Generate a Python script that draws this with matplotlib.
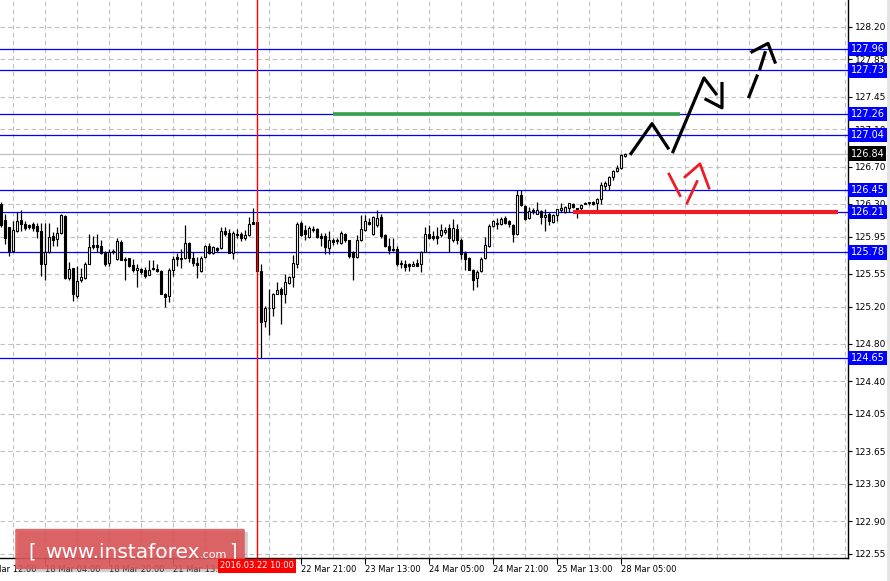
import numpy as np
import matplotlib.pyplot as plt
from matplotlib.patches import FancyBboxPatch, Rectangle
from matplotlib.transforms import blended_transform_factory

# hourly candles, bar index 0..156
opens = [
    126.30, 126.13, 126.05, 125.80, 126.01, 126.13, 126.08, 126.07, 126.09, 126.06,
    126.01, 125.66, 125.78, 125.96, 125.92, 125.99, 126.17, 125.51, 125.61, 125.31,
    125.48, 125.51, 125.66, 125.86, 125.86, 125.85, 125.78, 125.67, 125.80, 125.71,
    125.89, 125.71, 125.72, 125.65, 125.59, 125.60, 125.59, 125.54, 125.61, 125.60,
    125.58, 125.34, 125.31, 125.59, 125.73, 125.72, 125.72, 125.88, 125.72, 125.67,
    125.58, 125.73, 125.85, 125.77, 125.83, 125.83, 126.01, 125.99, 125.77, 125.98,
    125.98, 125.94, 125.97, 126.11, 126.11, 125.58, 125.05, 125.19, 125.19, 125.34,
    125.39, 125.34, 125.45, 125.52, 125.66, 126.10, 126.02, 125.95, 126.03, 126.03,
    125.96, 125.96, 125.83, 125.91, 125.91, 125.88, 125.98, 125.91, 125.78, 125.73,
    125.91, 126.02, 126.11, 125.98, 126.07, 126.16, 125.97, 125.85, 125.82, 125.82,
    125.67, 125.66, 125.66, 125.64, 125.67, 125.66, 125.79, 125.98, 125.96, 125.96,
    125.97, 126.00, 126.04, 125.91, 126.03, 125.91, 125.77, 125.72, 125.59, 125.51,
    125.58, 125.72, 125.85, 126.06, 126.08, 126.09, 126.15, 126.12, 126.07, 125.98,
    126.40, 126.28, 126.15, 126.23, 126.19, 126.22, 126.16, 126.19, 126.11, 126.18,
    126.23, 126.21, 126.26, 126.30, 126.26, 126.26, 126.30, 126.31, 126.32, 126.31,
    126.35, 126.49, 126.50, 126.59, 126.65, 126.68, 126.81,
]
highs = [
    126.32, 126.19, 126.05, 126.12, 126.21, 126.24, 126.12, 126.09, 126.11, 126.10,
    126.10, 126.10, 126.10, 126.00, 126.05, 126.19, 126.18, 125.68, 125.61, 125.63,
    125.61, 125.68, 125.98, 125.96, 125.98, 125.91, 125.80, 125.82, 125.82, 125.94,
    125.91, 125.73, 125.72, 125.71, 125.66, 125.61, 125.62, 125.70, 125.70, 125.66,
    125.59, 125.35, 125.61, 125.74, 125.77, 125.82, 126.07, 125.89, 125.78, 125.73,
    125.74, 125.86, 125.88, 125.85, 125.84, 126.05, 126.05, 126.03, 126.01, 126.03,
    126.00, 126.02, 126.16, 126.26, 126.12, 125.66, 125.21, 125.39, 125.35, 125.46,
    125.41, 125.55, 125.53, 125.75, 126.11, 126.12, 126.07, 126.06, 126.06, 126.04,
    125.99, 125.99, 126.01, 125.93, 125.94, 126.01, 125.99, 125.91, 125.80, 125.97,
    126.18, 126.18, 126.15, 126.17, 126.24, 126.19, 125.98, 125.94, 125.93, 125.85,
    125.70, 125.70, 125.67, 125.69, 125.71, 125.80, 126.05, 126.07, 126.01, 126.05,
    126.09, 126.05, 126.09, 126.14, 126.09, 125.94, 125.80, 125.73, 125.60, 125.59,
    125.73, 125.95, 126.09, 126.13, 126.15, 126.16, 126.17, 126.13, 126.09, 126.45,
    126.45, 126.29, 126.27, 126.26, 126.32, 126.24, 126.25, 126.21, 126.19, 126.25,
    126.31, 126.28, 126.31, 126.31, 126.26, 126.30, 126.32, 126.32, 126.33, 126.36,
    126.53, 126.55, 126.60, 126.66, 126.72, 126.84, 126.85,
]
lows = [
    126.05, 125.87, 125.74, 125.78, 126.00, 126.01, 126.02, 126.03, 126.01, 125.93,
    125.53, 125.49, 125.77, 125.85, 125.85, 125.98, 125.50, 125.48, 125.26, 125.29,
    125.46, 125.50, 125.66, 125.82, 125.78, 125.76, 125.64, 125.64, 125.76, 125.70,
    125.70, 125.49, 125.62, 125.57, 125.41, 125.55, 125.51, 125.54, 125.59, 125.57,
    125.34, 125.20, 125.25, 125.53, 125.64, 125.61, 125.71, 125.68, 125.63, 125.51,
    125.57, 125.72, 125.76, 125.76, 125.79, 125.82, 125.96, 125.77, 125.71, 125.94,
    125.90, 125.91, 125.96, 126.09, 125.58, 124.65, 124.98, 124.90, 125.10, 125.34,
    125.01, 125.24, 125.44, 125.41, 125.61, 125.96, 125.91, 125.94, 126.00, 125.94,
    125.85, 125.76, 125.76, 125.86, 125.87, 125.87, 125.89, 125.72, 125.49, 125.72,
    125.90, 126.01, 126.07, 125.97, 126.05, 125.94, 125.84, 125.76, 125.80, 125.64,
    125.61, 125.58, 125.58, 125.63, 125.63, 125.57, 125.78, 125.92, 125.91, 125.87,
    125.95, 125.98, 125.78, 125.89, 125.87, 125.71, 125.59, 125.59, 125.38, 125.41,
    125.57, 125.71, 125.84, 126.05, 126.03, 126.07, 126.09, 126.05, 125.89, 125.97,
    126.28, 126.13, 126.14, 126.19, 126.19, 126.09, 126.01, 126.07, 126.10, 126.12,
    126.21, 126.20, 126.21, 126.26, 126.15, 126.21, 126.30, 126.29, 126.29, 126.23,
    126.30, 126.45, 126.45, 126.56, 126.64, 126.67, 126.80,
]
closes = [
    126.07, 125.94, 125.80, 126.02, 126.12, 126.09, 126.04, 126.05, 126.04, 126.01,
    125.66, 125.78, 125.95, 125.91, 125.99, 126.18, 125.51, 125.60, 125.33, 125.47,
    125.52, 125.66, 125.84, 125.84, 125.84, 125.77, 125.66, 125.79, 125.78, 125.90,
    125.70, 125.70, 125.63, 125.59, 125.61, 125.57, 125.53, 125.59, 125.60, 125.58,
    125.34, 125.30, 125.59, 125.71, 125.71, 125.71, 125.88, 125.72, 125.67, 125.65,
    125.72, 125.85, 125.77, 125.84, 125.81, 126.01, 125.98, 125.77, 125.99, 125.97,
    125.93, 125.97, 126.09, 126.09, 125.58, 125.04, 125.19, 125.18, 125.34, 125.38,
    125.34, 125.46, 125.52, 125.67, 126.09, 125.97, 125.98, 126.04, 126.02, 125.95,
    125.94, 125.84, 125.91, 125.89, 125.90, 125.99, 125.91, 125.74, 125.73, 125.91,
    126.03, 126.12, 126.09, 126.16, 126.15, 125.96, 125.85, 125.81, 125.81, 125.66,
    125.66, 125.62, 125.63, 125.66, 125.64, 125.79, 125.98, 125.94, 125.94, 125.94,
    126.02, 126.02, 125.94, 126.04, 125.91, 125.76, 125.71, 125.59, 125.49, 125.57,
    125.71, 125.86, 126.06, 126.12, 126.10, 126.14, 126.10, 126.08, 125.98, 126.40,
    126.29, 126.14, 126.22, 126.22, 126.23, 126.16, 126.18, 126.12, 126.18, 126.25,
    126.26, 126.27, 126.31, 126.27, 126.21, 126.29, 126.31, 126.32, 126.30, 126.35,
    126.50, 126.52, 126.59, 126.65, 126.68, 126.82, 126.84,
]

# horizontal levels drawn in blue with labels on the price scale
levels = [127.96, 127.73, 127.26, 127.04, 126.45, 126.21, 125.78, 124.65]
bid = 126.84

y_ticks = [128.20, 127.85, 127.45, 127.10, 126.70, 126.30, 125.95, 125.55,
           125.20, 124.80, 124.40, 124.05, 123.65, 123.30, 122.90, 122.55]

x_tick_pos = [11, 27, 43, 75, 91, 107, 123, 139, 155]
x_tick_labels = ["18 Mar 04:00", "18 Mar 20:00", "21 Mar 13:00", "22 Mar 21:00",
                 "23 Mar 13:00", "24 Mar 05:00", "24 Mar 21:00", "25 Mar 13:00",
                 "28 Mar 05:00"]
cursor_bar = 64
cursor_label = "2016.03.22 10:00"

# target / support segments
green_seg = ([83, 169.75], [127.26, 127.26])
red_seg = ([143, 209.25], [126.21, 126.21])

# forecast arrows (bar index, price)
black_path1 = ([157.5, 162.75, 166.75], [126.84, 127.16, 126.90])
black_path2 = ([168, 175.75, 178.75], [126.86, 127.65, 127.48])
black_head2 = ([176.25, 180.25, 180.25], [127.42, 127.33, 127.59])
black_dash = [([187, 189], [127.45, 127.67]), ([189.75, 191], [127.75, 127.92])]
black_head3 = ([187.75, 191.75, 193.5], [127.93, 128.02, 127.82])
red_path1 = ([167, 169.75], [126.62, 126.39])
red_path2 = ([171.5, 174], [126.31, 126.54])
red_head = ([171, 174.75, 177], [126.59, 126.73, 126.47])

W, H = 890, 581
fig = plt.figure(figsize=(W / 100, H / 100), dpi=100)
ax = fig.add_axes([0, 23 / H, 848 / W, 558 / H])
ax.set_xlim(-0.25, 211.75)
ax.set_ylim(122.507, 128.485)

o = np.array(opens)
c = np.array(closes)
idx = np.arange(len(o))
up = c >= o
body_low = np.minimum(o, c)
body_h = np.maximum(np.abs(c - o), 0.006)

ax.vlines(idx, lows, highs, color="black", lw=0.9, zorder=3)
ax.bar(idx, body_h, bottom=body_low, width=0.55,
       color=np.where(up, "white", "black"), edgecolor="black", lw=0.8, zorder=4)

blue = "#0000ff"
for lv in levels:
    ax.axhline(lv, color=blue, lw=0.9, zorder=2)
ax.axhline(bid, color="#c0c0c0", lw=0.9, zorder=2)
ax.axvline(cursor_bar, color="#ff0000", lw=1.0, zorder=5)

ax.plot(*green_seg, color="#33a24a", lw=2.6, solid_capstyle="butt", zorder=5)
ax.plot(*red_seg, color="#ee1c25", lw=3.0, solid_capstyle="butt", zorder=5)

for path in [black_path1, black_path2, black_head2, black_head3] + black_dash:
    ax.plot(*path, color="black", lw=2.3, zorder=6)
for path in [red_path1, red_path2, red_head]:
    ax.plot(*path, color="#ee1c25", lw=2.0, zorder=6)

# grid and axes styling
ax.set_yticks(y_ticks)
ax.set_yticklabels([f"{v:.2f}" for v in y_ticks])
ax.yaxis.tick_right()
ax.set_xticks(x_tick_pos)
ax.set_xticklabels(x_tick_labels)
ax.set_xticks(np.arange(3, 212, 8), minor=True)
for lbl in ax.get_xticklabels():
    lbl.set_horizontalalignment("left")
ax.tick_params(axis="y", which="major", length=3, width=0.8, pad=2,
               labelsize=6.5, colors="black")
ax.tick_params(axis="x", which="major", length=4, width=0.8, pad=1,
               labelsize=6)
ax.tick_params(axis="x", which="minor", length=0)
ax.grid(which="both", color="#c0c0c0", linestyle=(0, (4, 3)), lw=0.8)
ax.set_axisbelow(True)
for side in ["left", "top"]:
    ax.spines[side].set_visible(False)
for side in ["right", "bottom"]:
    ax.spines[side].set_linewidth(1.0)

trans = blended_transform_factory(ax.transAxes, ax.transData)
for lv in levels:
    ax.text(1.003, lv, f"{lv:.2f}", transform=trans, fontsize=7, color="white",
            va="center", ha="left", clip_on=False, zorder=20,
            bbox=dict(boxstyle="square,pad=0.22", fc=blue, ec="none"))
ax.text(1.003, bid, f"{bid:.2f}", transform=trans, fontsize=7, color="white",
        va="center", ha="left", clip_on=False, zorder=20,
        bbox=dict(boxstyle="square,pad=0.22", fc="black", ec="none"))

# first, partly hidden time label
ax.text(-5, -0.012, "17 Mar 12:00", transform=blended_transform_factory(ax.transData, ax.transAxes),
        fontsize=6, va="top", ha="left", clip_on=False)

# window border on the right
fig.patches.append(Rectangle((887 / W, 0), 3 / W, 1, transform=fig.transFigure,
                             fc="#e4e4e4", ec="none"))

# watermark
fig.patches.append(FancyBboxPatch((20 / W, (H - 571) / H), 226 / W, 38 / H,
                                  boxstyle="round,pad=0.002", transform=fig.transFigure,
                                  fc="#777777", ec="none", alpha=0.35, zorder=8))
fig.patches.append(FancyBboxPatch((17 / W, (H - 568) / H), 226 / W, 38 / H,
                                  boxstyle="round,pad=0.002", transform=fig.transFigure,
                                  fc="#dc5458", ec="none", alpha=0.88, zorder=9))
wy = (H - 558) / H
fig.text(28 / W, wy, "[", fontsize=14, color="white", zorder=10, va="baseline")
fig.text(45 / W, wy, "www.instaforex", fontsize=14.5, color="white", zorder=10, va="baseline")
fig.text(200 / W, wy, ".com", fontsize=8, color="white", zorder=10, va="baseline")
fig.text(229 / W, wy, "]", fontsize=14, color="white", zorder=10, va="baseline")

# cursor time label, on top of the watermark
cx = ax.transData.transform((cursor_bar, 0))[0] / W
fig.text(cx, (H - 561) / H, cursor_label, fontsize=6, color="white", va="top",
         ha="center", zorder=12,
         bbox=dict(boxstyle="square,pad=0.3", fc="#ff0000", ec="none"))

fig.savefig("out.png", dpi=100)
